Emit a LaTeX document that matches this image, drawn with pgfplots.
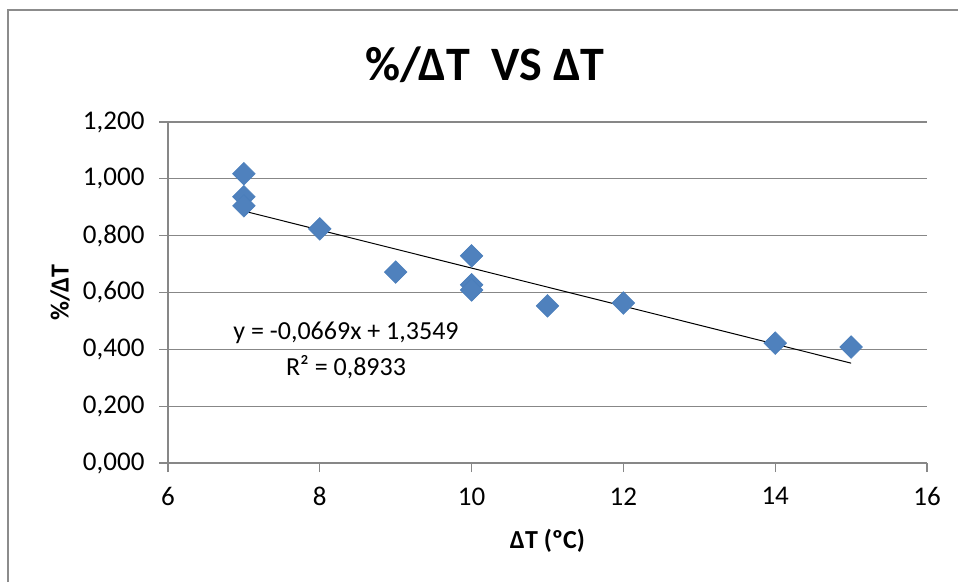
\documentclass[border=0pt]{standalone}
\usepackage{pgfplots}
\pgfplotsset{compat=1.18}
\usepackage{fontspec}
\setmainfont{Carlito}
\definecolor{markblue}{HTML}{4F81BD}
\definecolor{markedge}{HTML}{4A7EBB}
\definecolor{gridgray}{HTML}{878787}
\definecolor{framegray}{HTML}{8C8C8C}

\pgfplotstableread{
x y
7 1.018
7 0.937
7 0.905
8 0.824
9 0.672
10 0.729
10 0.627
10 0.609
11 0.553
12 0.563
14 0.422
15 0.408
}\pointdata

\begin{document}
\begin{tikzpicture}[x=1pt,y=1pt]
\useasboundingbox (0,0) rectangle (958,-582);
% chart area frame
\draw[framegray, line width=2.2pt] (8,-582) -- (8,-10) -- (958,-10);

\begin{axis}[
  at={(168pt,-463pt)}, anchor=south west,
  width=759pt, height=341pt, scale only axis,
  xmin=6, xmax=16, ymin=0, ymax=1.2,
  xtick={6,8,...,16},
  ytick={0,0.2,0.4,0.6,0.8,1.0,1.2},
  axis x line*=bottom, axis y line*=left,
  axis line style={gridgray, line width=1.2pt},
  tick align=outside,
  major tick length=9pt,
  tick style={gridgray, line width=1.2pt},
  ymajorgrids,
  grid style={gridgray, line width=1.1pt},
  /pgf/number format/assume math mode=true,
  ticklabel style={font=\fontsize{27}{32}\selectfont, text=black},
  yticklabel style={/pgf/number format/.cd, fixed, fixed zerofill, precision=3, use comma, 1000 sep={}, /tikz/.cd, xshift=-11pt},
  xticklabel style={/pgf/number format/.cd, fixed, precision=0, /tikz/.cd, yshift=-12pt},
  xlabel={ΔT (ºC)},
  ylabel={\%/ΔT},
  label style={font=\bfseries\fontsize{26}{30}\selectfont},
  xlabel style={at={([yshift=-78pt]axis description cs:0.5,0)}, anchor=center},
  ylabel style={at={([xshift=-108pt]axis description cs:0,0.5)}, anchor=center},
  clip=false,
]
\addplot[only marks, mark=square*, mark size=8pt,
  mark options={rotate=45, fill=markblue, draw=markedge, line width=0.6pt}]
  table[x=x, y=y] {\pointdata};
% linear trend line
\addplot[black, line width=1pt] coordinates {(7,0.8866) (15,0.3514)};
\node[font=\fontsize{26}{30}\selectfont, anchor=center] at (axis cs:8.345,0.4575) {y = -0,0669x + 1,3549};
\node[font=\fontsize{26}{30}\selectfont, anchor=center] at (axis cs:8.345,0.338) {R² = 0,8933};
\end{axis}

\node[font=\bfseries\fontsize{48}{54}\selectfont, anchor=center] at (485,-65) {\%/ΔT\ \ VS ΔT};
\end{tikzpicture}
\end{document}
